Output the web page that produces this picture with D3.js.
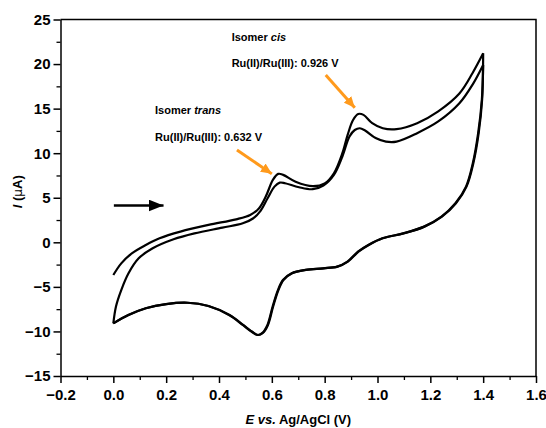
<!DOCTYPE html>
<html>
<head>
<meta charset="utf-8">
<script src="https://cdn.jsdelivr.net/npm/d3@7"></script>
<style>
  body { margin: 0; background: #fff; }
  svg { display: block; font-family: "Liberation Sans", Arial, sans-serif; }
</style>
</head>
<body>
<div id="chart"></div>
<script>
// cycle 1: forward scan starting at 0 V, then return scan
const forward1 = [
    [0.000, -3.67], [0.030, -2.36], [0.070, -1.24], [0.123, -0.30], [0.175, 0.45],
    [0.254, 1.20], [0.360, 1.95], [0.465, 2.58], [0.518, 3.07], [0.551, 3.80],
    [0.577, 5.13], [0.604, 7.00], [0.624, 7.68], [0.643, 7.57], [0.690, 6.80],
    [0.755, 6.30], [0.800, 6.60], [0.835, 7.75], [0.867, 10.0], [0.887, 12.06],
    [0.907, 13.70], [0.927, 14.40], [0.947, 14.30], [0.980, 13.37], [1.020, 12.80],
    [1.072, 12.70], [1.150, 13.37], [1.230, 14.70], [1.310, 16.70], [1.360, 19.00],
    [1.400, 21.20]
];
const return1 = [
    [1.400, 21.20], [1.396, 16.00], [1.383, 12.25], [1.363, 8.90], [1.337, 6.25],
    [1.297, 4.38], [1.244, 2.88], [1.178, 1.76], [1.099, 1.00], [1.020, 0.45],
    [0.967, -0.30], [0.928, -1.05], [0.888, -2.17], [0.849, -2.73], [0.796, -2.92],
    [0.730, -3.10], [0.677, -3.48], [0.644, -4.23], [0.625, -5.36], [0.605, -7.20],
    [0.585, -9.30], [0.565, -10.20], [0.548, -10.40], [0.526, -10.04], [0.493, -9.30],
    [0.440, -8.16], [0.361, -7.15], [0.282, -6.78], [0.201, -6.93], [0.124, -7.40],
    [0.058, -8.16], [0.000, -9.10]
];
// cycle 2
const forward2 = [
    [0.000, -9.10], [0.010, -7.20], [0.030, -5.36], [0.057, -3.50], [0.096, -1.80],
    [0.149, -0.67], [0.228, 0.34], [0.307, 1.00], [0.413, 1.65], [0.490, 2.13],
    [0.530, 2.70], [0.558, 3.56], [0.584, 4.94], [0.610, 6.25], [0.630, 6.70],
    [0.650, 6.63], [0.703, 6.18], [0.755, 5.96], [0.795, 6.37], [0.835, 7.57],
    [0.867, 9.63], [0.894, 11.87], [0.914, 12.60], [0.933, 12.80], [0.953, 12.55],
    [0.993, 11.70], [1.032, 11.30], [1.072, 11.30], [1.150, 12.25], [1.230, 13.56],
    [1.310, 15.60], [1.360, 17.70], [1.400, 19.90]
];
const return2 = [
    [1.400, 19.90], [1.395, 16.00], [1.381, 12.25], [1.361, 8.90], [1.335, 6.25],
    [1.295, 4.38], [1.242, 2.88], [1.176, 1.76], [1.097, 1.00], [1.018, 0.45],
    [0.965, -0.30], [0.926, -1.05], [0.886, -2.17], [0.847, -2.73], [0.794, -2.92],
    [0.728, -3.10], [0.675, -3.48], [0.642, -4.23], [0.623, -5.36], [0.603, -7.20],
    [0.583, -9.30], [0.563, -10.20], [0.546, -10.40], [0.524, -10.04], [0.491, -9.30],
    [0.438, -8.16], [0.359, -7.15], [0.280, -6.78], [0.199, -6.93], [0.122, -7.40],
    [0.056, -8.16], [0.000, -9.10]
];

const xTicks = [-0.2, 0.0, 0.2, 0.4, 0.6, 0.8, 1.0, 1.2, 1.4, 1.6];
const yTicks = [-15, -10, -5, 0, 5, 10, 15, 20, 25];

// annotation texts and arrows, in data units
const labels = [
    { x: 0.448, y: 22.62, plain: 'Isomer ', ital: 'cis' },
    { x: 0.448, y: 19.64, plain: 'Ru(II)/Ru(III): 0.926 V', ital: '' },
    { x: 0.158, y: 14.37, plain: 'Isomer ', ital: 'trans' },
    { x: 0.158, y: 11.41, plain: 'Ru(II)/Ru(III): 0.632 V', ital: '' }
];
const peakArrows = [
    { x1: 0.804, y1: 18.78, x2: 0.914, y2: 15.11 },
    { x1: 0.468, y1: 10.37, x2: 0.600, y2: 7.68 }
];
const scanArrow = { x1: 0.002, y1: 4.13, x2: 0.19, y2: 4.13 };

const width = 546, height = 428;
const margin = { top: 19.5, right: 10, bottom: 52, left: 60.5 };
const innerW = width - margin.left - margin.right;
const innerH = height - margin.top - margin.bottom;

const svg = d3.select('#chart').append('svg')
    .attr('width', width)
    .attr('height', height);

const defs = svg.append('defs');
function marker(id, color, w, h) {
    defs.append('marker')
        .attr('id', id)
        .attr('viewBox', `0 0 ${w} ${h}`)
        .attr('refX', w).attr('refY', h / 2)
        .attr('markerWidth', w).attr('markerHeight', h)
        .attr('markerUnits', 'userSpaceOnUse')
        .attr('orient', 'auto')
        .append('path')
        .attr('d', `M0,0L${w},${h / 2}L0,${h}Z`)
        .attr('fill', color);
}
marker('head-orange', '#ff9a1c', 11, 10);
marker('head-black', '#000', 15, 12);

const plot = svg.append('g')
    .attr('transform', `translate(${margin.left},${margin.top})`);

const x = d3.scaleLinear().domain([-0.2, 1.6]).range([0, innerW]);
const y = d3.scaleLinear().domain([-15, 25]).range([innerH, 0]);

// minor ticks
plot.append('g')
    .attr('transform', `translate(0,${innerH})`)
    .call(d3.axisBottom(x).tickValues(d3.range(-0.1, 1.6, 0.2)).tickSize(4).tickFormat(''))
    .call(g => g.select('.domain').remove())
    .call(g => g.selectAll('line').attr('stroke-width', 1.3));
plot.append('g')
    .call(d3.axisLeft(y).tickValues(d3.range(-12.5, 25, 5)).tickSize(4).tickFormat(''))
    .call(g => g.select('.domain').remove())
    .call(g => g.selectAll('line').attr('stroke-width', 1.3));

plot.append('g')
    .attr('transform', `translate(0,${innerH})`)
    .call(d3.axisBottom(x).tickValues(xTicks).tickSize(7).tickSizeOuter(0).tickPadding(6)
        .tickFormat(d3.format('.1f')))
    .call(g => g.select('.domain').attr('stroke-width', 1.5))
    .call(g => g.selectAll('line').attr('stroke-width', 1.5))
    .call(g => g.selectAll('text').attr('font-size', 15).attr('font-weight', 'bold').attr('fill', '#000'));

plot.append('g')
    .call(d3.axisLeft(y).tickValues(yTicks).tickSize(7).tickSizeOuter(0).tickPadding(3)
        .tickFormat(d3.format('d')))
    .call(g => g.select('.domain').attr('stroke-width', 1.5))
    .call(g => g.selectAll('line').attr('stroke-width', 1.5))
    .call(g => g.selectAll('text').attr('font-size', 15).attr('font-weight', 'bold').attr('fill', '#000'));

// top and right frame
plot.append('path')
    .attr('d', `M0,0H${innerW}V${innerH}`)
    .attr('fill', 'none')
    .attr('stroke', '#000')
    .attr('stroke-width', 1.5);

const line = d3.line()
    .x(d => x(d[0]))
    .y(d => y(d[1]))
    .curve(d3.curveCatmullRom.alpha(0.5));

[forward1, return1, forward2, return2].forEach(data => {
    plot.append('path')
        .datum(data)
        .attr('fill', 'none')
        .attr('stroke', '#000')
        .attr('stroke-width', 2.2)
        .attr('stroke-linejoin', 'round')
        .attr('d', line);
});

// annotations
labels.forEach(l => {
    const t = plot.append('text')
        .attr('x', x(l.x))
        .attr('y', y(l.y))
        .attr('font-size', 11)
        .attr('font-weight', 'bold')
        .attr('fill', '#000');
    t.append('tspan').text(l.plain);
    if (l.ital) t.append('tspan').attr('font-style', 'italic').text(l.ital);
});

peakArrows.forEach(a => {
    plot.append('line')
        .attr('x1', x(a.x1)).attr('y1', y(a.y1))
        .attr('x2', x(a.x2)).attr('y2', y(a.y2))
        .attr('stroke', '#ff9a1c')
        .attr('stroke-width', 3)
        .attr('marker-end', 'url(#head-orange)');
});

plot.append('line')
    .attr('x1', x(scanArrow.x1)).attr('y1', y(scanArrow.y1))
    .attr('x2', x(scanArrow.x2)).attr('y2', y(scanArrow.y2))
    .attr('stroke', '#000')
    .attr('stroke-width', 2.5)
    .attr('marker-end', 'url(#head-black)');

// axis titles
const xt = svg.append('text')
    .attr('x', margin.left + innerW / 2)
    .attr('y', 424)
    .attr('text-anchor', 'middle')
    .attr('font-size', 13)
    .attr('font-weight', 'bold');
xt.append('tspan').attr('font-style', 'italic').text('E vs.');
xt.append('tspan').text(' Ag/AgCl (V)');

const yt = svg.append('text')
    .attr('transform', `translate(22,${margin.top + innerH / 2 - 6}) rotate(-90)`)
    .attr('text-anchor', 'middle')
    .attr('font-size', 13)
    .attr('font-weight', 'bold');
yt.append('tspan').attr('font-style', 'italic').text('I');
yt.append('tspan').text(' (');
yt.append('tspan').attr('font-family', '"DejaVu Sans", sans-serif').attr('font-weight', 'normal').attr('font-size', 12).text('μ');
yt.append('tspan').text('A)');
</script>
</body>
</html>
